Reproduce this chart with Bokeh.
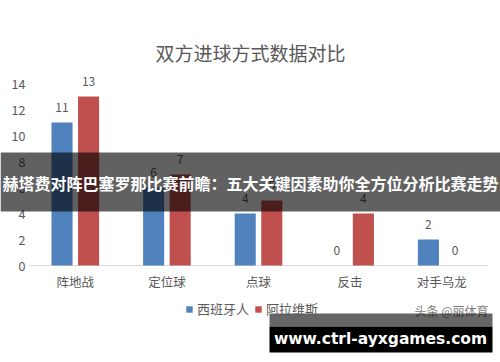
from bokeh.plotting import figure
from bokeh.models import Range1d, Label, BoxAnnotation, Legend, LegendItem, ColumnDataSource
from bokeh.core.properties import value
from bokeh.embed import file_html
from bokeh.resources import INLINE

# ---- data ----
categories = ["阵地战", "定位球", "点球", "反击", "对手乌龙"]
espanyol = [11, 6, 4, 0, 2]
alaves = [13, 7, 5, 4, 0]
series_names = ["西班牙人", "阿拉维斯"]
y_ticks = [0, 2, 4, 6, 8, 10, 12, 14]
title_text = "双方进球方式数据对比"
banner_text = "赫塔费对阵巴塞罗那比赛前瞻：五大关键因素助你全方位分析比赛走势"
watermark_text = "头条 @丽体育"
site_text = "www.ctrl-ayxgames.com"

# ---- layout constants (pixels) ----
W, H = 500, 362
AX_L, AX_R = 29, 487   # category axis extent (px)
BASE = 265             # y = 0 baseline (px from top)
PXU = 13.0             # px per y unit
CAT_PX = (AX_R - AX_L) / len(categories)
BLUE = "#4f81bd"
RED = "#c0504d"
GRAY = "#595959"
CJK = "Noto Sans CJK SC"


def fx(px):
    return (px - AX_L) / CAT_PX


def fy(py):
    return (BASE - py) / PXU


n = len(categories)
xc = [i + 0.5 for i in range(n)]
OFFS = 0.145
BW = 0.23

src = ColumnDataSource(dict(
    xb=[x - OFFS for x in xc],
    xr=[x + OFFS for x in xc],
    esp=espanyol,
    ala=alaves,
    esp_s=[str(v) for v in espanyol],
    ala_s=[str(v) for v in alaves],
))

p = figure(width=W, height=H,
           x_range=Range1d(fx(0), fx(W)),
           y_range=Range1d(fy(H), fy(0)),
           x_axis_location=None, y_axis_location=None,
           output_backend="svg", toolbar_location=None,
           min_border=0)
p.outline_line_color = None
p.grid.visible = False
p.background_fill_color = "white"
p.border_fill_color = "white"

# y tick labels
p.text(x=[fx(25)] * len(y_ticks), y=y_ticks, text=[str(t) for t in y_ticks],
       text_align="right", text_baseline="middle",
       text_font=value(CJK), text_font_size="12.5px", text_color=GRAY)

# category axis line and labels
p.segment(x0=[0], y0=[0], x1=[n], y1=[0], line_color="#d9d9d9", line_width=1)
p.text(x=xc, y=[0] * n, text=categories, text_align="center", text_baseline="middle",
       y_offset=16, text_font=value(CJK), text_font_size="12.5px", text_color=GRAY)

# bars
r1 = p.vbar(x="xb", top="esp", width=BW, source=src, fill_color=BLUE, line_color=None)
r2 = p.vbar(x="xr", top="ala", width=BW, source=src, fill_color=RED, line_color=None)

for col, lab, xcol in (("esp", "esp_s", "xb"), ("ala", "ala_s", "xr")):
    p.text(x=xcol, y=col, text=lab, source=src,
           text_align="center", text_baseline="middle", y_offset=-15,
           text_font=value(CJK), text_font_size="12px", text_color=GRAY)

# legend
legend = Legend(items=[LegendItem(label=series_names[0], renderers=[r1]),
                       LegendItem(label=series_names[1], renderers=[r2])],
                orientation="horizontal", location=(185, H - 318),
                glyph_width=8, glyph_height=8, label_height=16,
                label_standoff=4, spacing=5, padding=0, margin=0,
                border_line_color=None, background_fill_alpha=0,
                label_text_font=CJK, label_text_font_size="13px",
                label_text_color=GRAY)
p.add_layout(legend)

# title
p.add_layout(Label(x=fx(250), y=fy(52), text=title_text, text_align="center",
                   text_baseline="middle", text_font=CJK, text_font_size="19px",
                   text_color=GRAY))

# watermark
p.add_layout(Label(x=fx(451), y=fy(310), text=watermark_text, text_align="center",
                   text_baseline="middle", text_font=CJK, text_font_size="12px",
                   text_color="#7f7f7f"))

# banner overlay
p.add_layout(BoxAnnotation(left=fx(0), right=fx(W), top=fy(152), bottom=fy(211),
                           fill_color="black", fill_alpha=0.62, line_color=None,
                           level="overlay"))
p.add_layout(Label(x=fx(250), y=fy(182), text=banner_text, text_align="center",
                   text_baseline="middle", text_font=CJK, text_font_size="16px",
                   text_font_style="bold", text_color="white", level="overlay"))

# site box
p.add_layout(BoxAnnotation(left=fx(269), right=fx(492), top=fy(313), bottom=fy(326),
                           fill_color="black", fill_alpha=0.6, line_color=None,
                           level="overlay"))
p.add_layout(BoxAnnotation(left=fx(269), right=fx(492), top=fy(326), bottom=fy(352),
                           fill_color="black", fill_alpha=1.0, line_color=None,
                           level="overlay"))
p.add_layout(Label(x=fx(380), y=fy(338), text=site_text, text_align="center",
                   text_baseline="middle", text_font="DejaVu Sans", text_font_size="15.5px",
                   text_font_style="bold", text_color="white", level="overlay"))

open("out.html", "w").write(file_html(p, INLINE))
